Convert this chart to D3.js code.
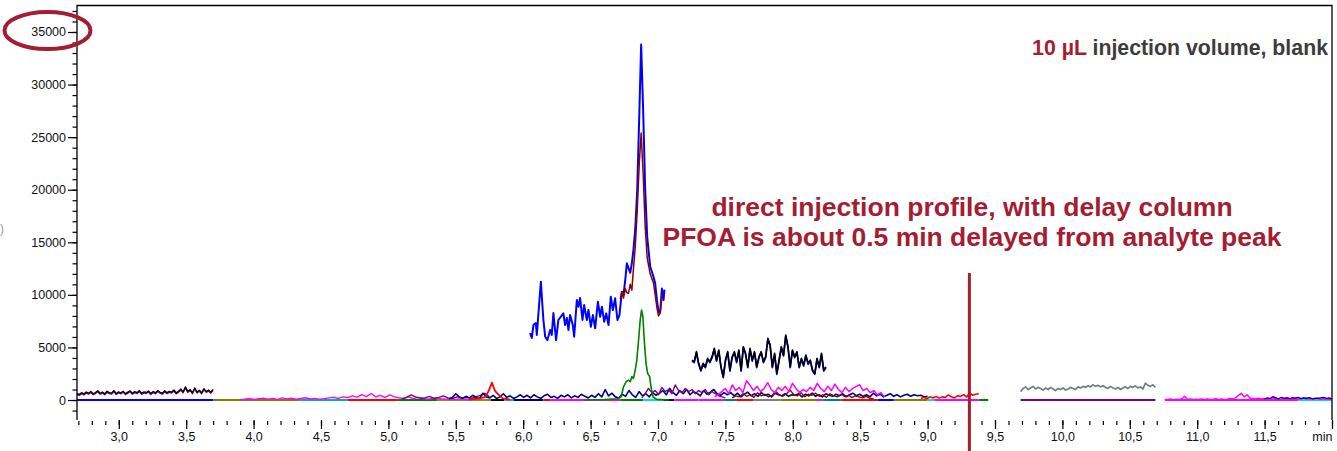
<!DOCTYPE html>
<html>
<head>
<meta charset="utf-8">
<script src="https://cdn.jsdelivr.net/npm/d3@7"></script>
<style>
  body { margin: 0; background: #fff; }
  text { font-family: "Liberation Sans", Arial, sans-serif; }
</style>
</head>
<body>
<div id="chart"></div>
<script>
// x ticks and y ticks
const xMajorTicks = [3.0, 3.5, 4.0, 4.5, 5.0, 5.5, 6.0, 6.5, 7.0, 7.5, 8.0, 8.5, 9.0, 9.5, 10.0, 10.5, 11.0, 11.5, 12.0];
const yMajorTicks = [0, 5000, 10000, 15000, 20000, 25000, 30000, 35000];

// traces read as [time, intensity] pairs
const blueTrace = [[6.051, 6370], [6.064, 5900], [6.076, 7130], [6.094, 7320], [6.101, 6180], [6.131, 11250],
  [6.150, 7600], [6.163, 6020], [6.180, 5700], [6.200, 6660], [6.212, 6180], [6.224, 8270], [6.244, 5700],
  [6.261, 7610], [6.279, 7920], [6.298, 8240], [6.311, 7130], [6.324, 7800], [6.336, 6660], [6.348, 8080],
  [6.368, 7130], [6.378, 6020], [6.398, 9510], [6.410, 8870], [6.422, 9700], [6.440, 7610], [6.452, 9030],
  [6.472, 7610], [6.484, 8560], [6.502, 6970], [6.517, 8080], [6.534, 6820], [6.554, 9350], [6.571, 7920],
  [6.584, 8870], [6.601, 7450], [6.616, 8240], [6.633, 7130], [6.650, 9830], [6.665, 8560], [6.682, 9670],
  [6.699, 7610], [6.714, 8080], [6.732, 10300], [6.744, 9990], [6.757, 11400], [6.769, 13000], [6.794, 12100],
  [6.806, 13000], [6.818, 14300], [6.831, 16200], [6.846, 20000], [6.861, 27000], [6.875, 33800], [6.890, 27500],
  [6.905, 20000], [6.920, 15500], [6.942, 12700], [6.967, 11700], [6.979, 11100], [6.992, 9500], [7.004, 8400],
  [7.016, 8300], [7.029, 10600], [7.041, 9500], [7.048, 10500]];

const darkRedTrace = [[6.720, 9600], [6.732, 10300], [6.744, 9700], [6.757, 10600], [6.769, 10200], [6.781, 10150],
  [6.794, 11000], [6.806, 10450], [6.818, 12500], [6.831, 14500], [6.846, 18000], [6.861, 22500], [6.875, 25400],
  [6.890, 21500], [6.905, 16500], [6.920, 13500], [6.942, 12000], [6.967, 11100], [6.979, 10000], [6.992, 8800],
  [7.004, 8000], [7.016, 8300], [7.029, 9800], [7.041, 10000]];

const greenTrace = [[6.45, 0], [6.60, 40], [6.70, 120], [6.727, 310], [6.744, 1260], [6.764, 1740], [6.781, 1900],
  [6.794, 1740], [6.806, 2220], [6.818, 2060], [6.831, 2850], [6.843, 3800], [6.856, 5700], [6.868, 7600],
  [6.878, 8560], [6.888, 7920], [6.898, 5700], [6.911, 3520], [6.923, 2540], [6.938, 2220], [6.948, 1260],
  [6.963, 310], [6.99, 60], [7.08, 0]];

const redPeakTrace = [[5.60, 50], [5.68, 150], [5.72, 300], [5.745, 900], [5.768, 1650], [5.79, 900],
  [5.81, 600], [5.83, 350], [5.85, 150], [5.90, 50]];

// noisy traces sampled evenly between a start and end time
const blackEarlyRange = [2.69, 3.70];
const blackEarly = [620, 540, 700, 580, 760, 650, 820, 600, 710, 880, 640, 760, 590, 830, 700, 660, 900, 620, 780, 690,
  840, 610, 750, 870, 650, 800, 700, 900, 640, 780, 720, 860, 620, 810, 690, 900, 740, 650, 880, 700,
  820, 760, 950, 680, 840, 1050, 780, 1250, 820, 1000, 700, 1150, 760, 940, 690, 1080, 820, 960, 750, 1020];

const blackMidRange = [7.252, 8.246];
const blackMid = [3800, 3650, 4600, 3490, 2850, 3490, 3170, 3960, 3650, 4120, 4920, 3800, 4760, 3170, 2220, 3800,
  4600, 2850, 4120, 4600, 3650, 4760, 2850, 5070, 4440, 3170, 4920, 3800, 4600, 3170, 4120, 4600, 3650, 4120,
  5870, 5230, 3170, 4440, 2540, 3800, 5070, 4280, 6180, 5070, 3170, 4760, 4120, 4600, 3170, 3960, 3330, 4280,
  3490, 3800, 2850, 2540, 3960, 3170, 4440, 2850, 3170];

const grayLateRange = [9.69, 10.69];
const grayLate = [800, 1100, 1250, 1000, 1150, 1300, 1050, 1200, 1100, 950, 1150, 1000, 1200, 1050, 900, 1100, 1000,
  1150, 950, 1050, 1200, 1100, 1000, 1250, 1150, 1300, 1200, 1350, 1250, 1450, 1300, 1400, 1250, 1350, 1200, 1100,
  1300, 1150, 1050, 1200, 1000, 1150, 1250, 1100, 1300, 1200, 1350, 1150, 1250, 1050, 1600, 1400, 1300, 1450, 1200];

const magentaEarlyRange = [3.9, 5.6];
const magentaEarly = [0, 80, 150, 60, 120, 180, 90, 140, 60, 200, 110, 170, 80, 150, 220, 100, 160, 90, 130, 200, 250,
  150, 300, 220, 400, 280, 520, 330, 620, 300, 450, 250, 480, 300, 220, 160, 300, 120, 250, 180, 90, 140, 200, 120,
  90, 150, 60, 110, 80, 40];

const purpleEarlyRange = [5.1, 5.75];
const purpleEarly = [100, 250, 480, 300, 150, 200, 350, 150, 250, 400, 200, 150, 300, 200, 250, 150, 300, 450, 640, 300];

const navyRange = [5.45, 9.0];
const navyNoise = [100, 250, 600, 300, 150, 350, 200, 450, 250, 150, 650, 300, 200, 450, 150, 300, 600, 250, 400, 150, 300, 500,
  250, 450, 200, 500, 300, 150, 400, 550, 250, 350, 150, 450, 300, 500, 200, 400, 250, 550, 350, 200,
  450, 250, 600, 300, 1000, 400, 650, 300, 200, 550, 350, 900, 500, 250, 800, 400, 600, 300, 700, 450,
  650, 900, 500, 1100, 700, 450, 900, 600, 1000, 500, 800, 650, 400, 900, 550, 750, 1000, 600, 450, 700,
  500, 700, 400, 650, 300, 550, 750, 400, 600, 350, 700, 450, 550, 300, 650, 500, 400, 600, 350, 500,
  450, 600, 300, 550, 400, 650, 350, 500, 300, 600, 450, 350, 550, 400, 600, 300, 500, 650, 400, 550,
  350, 500, 300, 650, 400, 550, 300, 450, 600, 350, 500, 300, 450, 550, 350, 500, 400, 450, 300, 350];

const purpleMidRange = [6.88, 7.5];
const purpleMid = [200, 600, 1100, 700, 900, 500, 1200, 800, 1000, 600, 1430, 900, 700, 1100, 790, 1000, 600, 900, 700,
  1000, 500, 800, 600, 400, 300, 200];

const magentaMidRange = [7.42, 8.68];
const magentaMid = [300, 500, 800, 1100, 600, 1430, 900, 1200, 700, 1840, 1400, 900, 1300, 800, 1100, 1650, 1000, 700,
  1200, 900, 1300, 800, 1590, 1100, 700, 1000, 800, 1200, 900, 1590, 1100, 800, 1300, 900, 1520, 1000, 700, 1200,
  800, 1100, 1300, 1450, 900, 1100, 700, 900, 500, 700, 300];

const maroonLowRange = [7.55, 8.6];
const maroonLow = [200, 400, 300, 600, 350, 500, 250, 700, 400, 550, 300, 450, 800, 500, 350, 600, 950, 500, 400, 700,
  300, 550, 450, 650, 350, 500, 250, 600, 400, 300, 550, 350, 450, 250, 400, 300, 200, 350, 150, 100];

const redLateRange = [8.95, 9.38];
const redLate = [150, 250, 120, 300, 200, 350, 180, 300, 250, 480, 300, 200, 400, 350, 500, 300, 640, 450, 550, 600];

const magentaLateRange = [10.76, 12.0];
const magentaLate = [60, 40, 90, 30, 80, 50, 120, 350, 60, 100, 40, 80, 60, 110, 50, 90, 40, 70, 120, 60, 100, 50, 80,
  140, 90, 200, 450, 640, 300, 500, 200, 150, 100, 180, 90, 140, 60, 120, 80, 260, 100, 60, 150, 220, 130, 90, 160,
  80, 120, 200, 90, 140, 60, 110, 170, 80, 130, 60, 100, 50];

const navyLateRange = [11.5, 12.0];
const navyLate = [100, 200, 150, 320, 180, 120, 250, 150, 200, 130, 220, 180, 260, 140, 200, 170, 230, 120, 180, 150,
  210, 260, 150, 200, 120];

// flat segments along the zero line: [start, end, colour]
const baselineSegments = [
  [2.69, 3.70, '#0000ff'], [3.70, 4.35, '#808000'], [4.35, 4.70, '#00b0b0'], [4.70, 5.07, '#ff0000'],
  [5.07, 5.36, '#008000'], [5.36, 5.76, '#8a8a30'], [5.76, 5.86, '#000000'], [5.86, 5.93, '#00b0b0'],
  [5.93, 6.15, '#000080'], [6.15, 6.20, '#ff0000'], [6.20, 6.72, '#ff00ff'], [6.72, 6.89, '#008000'],
  [6.89, 7.04, '#00e0e0'], [7.04, 7.12, '#000080'], [7.12, 7.30, '#ff00ff'], [7.30, 7.49, '#ff00ff'],
  [7.49, 7.58, '#008080'], [7.58, 7.71, '#ff0000'], [7.71, 7.91, '#808080'], [7.91, 8.18, '#808000'],
  [8.18, 8.22, '#ff00ff'], [8.22, 8.36, '#008080'], [8.36, 8.63, '#ff0000'], [8.63, 8.75, '#0000ff'],
  [8.75, 9.00, '#808000'], [9.00, 9.05, '#00e0e0'], [9.05, 9.38, '#ff00ff'], [9.38, 9.45, '#008000'],
  [9.69, 10.69, '#800080'], [10.76, 11.75, '#ff00ff'], [11.75, 12.0, '#00e0e0']];

const delayMarker = 9.31;

// dimensions
const width = 1337;
const height = 451;
const plot = { left: 77, right: 1332, top: 5.5, bottom: 420 };

const svg = d3.select('#chart')
  .append('svg')
  .attr('width', width)
  .attr('height', height);

const xScale = d3.scaleLinear()
  .domain([2.69, 12.0])
  .range([plot.left, plot.right]);

const yScale = d3.scaleLinear()
  .domain([-1900, 37520])
  .range([plot.bottom, plot.top]);

const line = d3.line()
  .x(d => xScale(d[0]))
  .y(d => yScale(d[1]));

// turn evenly sampled values into [time, value] pairs
function sampled(range, values) {
  const t = d3.scaleLinear().domain([0, values.length - 1]).range(range);
  return values.map((v, i) => [t(i), v]);
}

const traces = svg.append('g')
  .attr('fill', 'none')
  .attr('stroke-linejoin', 'round');

function drawTrace(data, color, w, dy) {
  traces.append('path')
    .datum(data)
    .attr('d', line)
    .attr('stroke', color)
    .attr('stroke-width', w)
    .attr('transform', dy ? `translate(0,${dy})` : null);
}

baselineSegments.forEach(s => {
  drawTrace([[s[0], 0], [s[1], 0]], s[2], 2);
});

drawTrace(sampled(magentaEarlyRange, magentaEarly), '#ff00ff', 1.4);
drawTrace(sampled(purpleEarlyRange, purpleEarly), '#800080', 1.4);
drawTrace(sampled(navyRange, navyNoise), '#000080', 1.6);
drawTrace(sampled(purpleMidRange, purpleMid), '#800080', 1.4);
drawTrace(sampled(maroonLowRange, maroonLow), '#8b0000', 1.3);
drawTrace(sampled(magentaMidRange, magentaMid), '#ff00ff', 1.5);
drawTrace(sampled(redLateRange, redLate), '#ff0000', 1.6);
drawTrace(redPeakTrace, '#ff0000', 1.8);
drawTrace(sampled(magentaLateRange, magentaLate), '#ff00ff', 1.5);
drawTrace(sampled(navyLateRange, navyLate), '#000080', 1.3);
drawTrace(sampled(grayLateRange, grayLate), '#708080', 1.7);

drawTrace(sampled(blackEarlyRange, blackEarly), '#800080', 1.4, 1);
drawTrace(sampled(blackEarlyRange, blackEarly), '#000000', 1.3);

drawTrace(greenTrace, '#008000', 1.6);
drawTrace(blueTrace, '#0000ff', 2);
drawTrace(darkRedTrace, '#8b0000', 1.5);

drawTrace(sampled(blackMidRange, blackMid), '#0000ff', 1.7, 1);
drawTrace(sampled(blackMidRange, blackMid), '#000000', 1.6);

// frame
svg.append('path')
  .attr('d', `M${plot.left},${plot.bottom}V${plot.top}H${plot.right}V${plot.bottom}`)
  .attr('fill', 'none')
  .attr('stroke', '#000')
  .attr('stroke-width', 1.3);

// y axis
const yAxis = svg.append('g')
  .attr('transform', `translate(${plot.left},0)`)
  .call(d3.axisLeft(yScale).tickValues(d3.range(-1000, 37001, 1000)).tickSize(4.5).tickFormat(''));
yAxis.select('.domain').remove();
yAxis.selectAll('line').attr('stroke-width', 1.2);

const yMajor = svg.append('g')
  .attr('transform', `translate(${plot.left},0)`)
  .call(d3.axisLeft(yScale).tickValues(yMajorTicks).tickSize(9).tickPadding(2).tickFormat(d => d));
yMajor.select('.domain').remove();
yMajor.selectAll('line').attr('stroke-width', 1.2);
yMajor.selectAll('text')
  .style('font-family', '"Liberation Sans", Arial, sans-serif')
  .style('font-size', '12.5px')
  .attr('fill', '#111');

// x axis
const xAxis = svg.append('g')
  .attr('transform', `translate(0,${plot.bottom + 1})`)
  .call(d3.axisBottom(xScale).tickValues(d3.range(2.7, 12.01, 0.1)).tickSize(4).tickFormat(''));
xAxis.select('.domain').remove();
xAxis.selectAll('line').attr('stroke-width', 1.2);

const xMajor = svg.append('g')
  .attr('transform', `translate(0,${plot.bottom})`)
  .call(d3.axisBottom(xScale).tickValues(xMajorTicks).tickSize(9).tickPadding(3)
    .tickFormat(d => d === 12 ? 'min' : d3.format('.1f')(d).replace('.', ',')));
xMajor.select('.domain').remove();
xMajor.selectAll('line').attr('stroke-width', 1.2);
xMajor.selectAll('text')
  .style('font-family', '"Liberation Sans", Arial, sans-serif')
  .style('font-size', '12.5px')
  .attr('fill', '#111');
xMajor.selectAll('text').filter(d => d === 12)
  .attr('text-anchor', 'end')
  .attr('x', 0);

// cut-off label at the far left
svg.append('text')
  .attr('x', 0)
  .attr('y', 233)
  .attr('fill', '#999')
  .style('font-size', '12px')
  .text(')');

// annotations
const accent = '#a51d33';

svg.append('ellipse')
  .attr('cx', 47.5)
  .attr('cy', yScale(35000) - 1.5)
  .attr('rx', 43)
  .attr('ry', 18.5)
  .attr('fill', 'none')
  .attr('stroke', accent)
  .attr('stroke-width', 4);

svg.append('line')
  .attr('x1', xScale(delayMarker))
  .attr('x2', xScale(delayMarker))
  .attr('y1', 273)
  .attr('y2', height)
  .attr('stroke', accent)
  .attr('stroke-width', 3);

const title = svg.append('text')
  .attr('x', 1328)
  .attr('y', 55)
  .attr('text-anchor', 'end')
  .style('font-size', '21.3px')
  .style('font-weight', 'bold');
title.append('tspan').attr('fill', accent).text('10 µL');
title.append('tspan').attr('fill', '#3c3c3c').text(' injection volume, blank');

const note = svg.append('text')
  .attr('text-anchor', 'middle')
  .attr('fill', accent)
  .style('font-size', '26.5px')
  .style('font-weight', 'bold');
note.append('tspan').attr('x', 972).attr('y', 216).text('direct injection profile, with delay column');
note.append('tspan').attr('x', 972).attr('y', 246).text('PFOA is about 0.5 min delayed from analyte peak');
</script>
</body>
</html>
